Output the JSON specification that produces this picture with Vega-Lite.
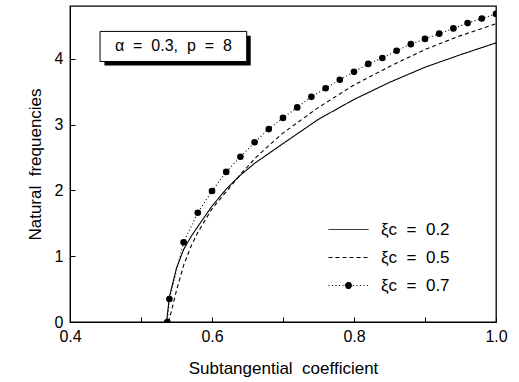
{
  "$schema": "https://vega.github.io/schema/vega-lite/v6.json",
  "width": 426,
  "height": 316,
  "autosize": {"type": "none"},
  "padding": {"left": 70, "top": 6, "right": 23, "bottom": 60},
  "background": "white",
  "config": {
    "view": {"stroke": "black", "strokeWidth": 1.3},
    "font": "Liberation Sans",
    "axis": {
      "grid": false,
      "domainColor": "black",
      "tickColor": "black",
      "labelColor": "black",
      "titleColor": "black",
      "titleFontWeight": "normal",
      "labelFontSize": 16,
      "titleFontSize": 17,
      "labelFlush": false,
      "labelOverlap": false,
      "tickSize": -5
    }
  },
  "datasets": {
    "curves": [
      {"x": 0.536, "y": 0, "xi": "0.2"},
      {"x": 0.54, "y": 0.38, "xi": "0.2"},
      {"x": 0.55, "y": 0.82, "xi": "0.2"},
      {"x": 0.56, "y": 1.1, "xi": "0.2"},
      {"x": 0.57, "y": 1.29, "xi": "0.2"},
      {"x": 0.58, "y": 1.45, "xi": "0.2"},
      {"x": 0.60, "y": 1.76, "xi": "0.2"},
      {"x": 0.62, "y": 2.02, "xi": "0.2"},
      {"x": 0.64, "y": 2.23, "xi": "0.2"},
      {"x": 0.66, "y": 2.41, "xi": "0.2"},
      {"x": 0.68, "y": 2.56, "xi": "0.2"},
      {"x": 0.70, "y": 2.71, "xi": "0.2"},
      {"x": 0.75, "y": 3.08, "xi": "0.2"},
      {"x": 0.80, "y": 3.38, "xi": "0.2"},
      {"x": 0.85, "y": 3.64, "xi": "0.2"},
      {"x": 0.90, "y": 3.87, "xi": "0.2"},
      {"x": 0.95, "y": 4.06, "xi": "0.2"},
      {"x": 1.00, "y": 4.24, "xi": "0.2"},
      {"x": 0.539, "y": 0, "xi": "0.5"},
      {"x": 0.55, "y": 0.48, "xi": "0.5"},
      {"x": 0.56, "y": 0.86, "xi": "0.5"},
      {"x": 0.57, "y": 1.14, "xi": "0.5"},
      {"x": 0.58, "y": 1.36, "xi": "0.5"},
      {"x": 0.60, "y": 1.72, "xi": "0.5"},
      {"x": 0.62, "y": 1.98, "xi": "0.5"},
      {"x": 0.64, "y": 2.24, "xi": "0.5"},
      {"x": 0.66, "y": 2.48, "xi": "0.5"},
      {"x": 0.68, "y": 2.68, "xi": "0.5"},
      {"x": 0.70, "y": 2.87, "xi": "0.5"},
      {"x": 0.75, "y": 3.26, "xi": "0.5"},
      {"x": 0.80, "y": 3.60, "xi": "0.5"},
      {"x": 0.85, "y": 3.88, "xi": "0.5"},
      {"x": 0.90, "y": 4.14, "xi": "0.5"},
      {"x": 0.95, "y": 4.35, "xi": "0.5"},
      {"x": 1.00, "y": 4.53, "xi": "0.5"},
      {"x": 0.537, "y": 0, "xi": "0.7"},
      {"x": 0.54, "y": 0.35, "xi": "0.7"},
      {"x": 0.56, "y": 1.21, "xi": "0.7"},
      {"x": 0.58, "y": 1.66, "xi": "0.7"},
      {"x": 0.60, "y": 1.99, "xi": "0.7"},
      {"x": 0.62, "y": 2.28, "xi": "0.7"},
      {"x": 0.64, "y": 2.51, "xi": "0.7"},
      {"x": 0.66, "y": 2.73, "xi": "0.7"},
      {"x": 0.68, "y": 2.93, "xi": "0.7"},
      {"x": 0.70, "y": 3.10, "xi": "0.7"},
      {"x": 0.72, "y": 3.26, "xi": "0.7"},
      {"x": 0.74, "y": 3.42, "xi": "0.7"},
      {"x": 0.76, "y": 3.55, "xi": "0.7"},
      {"x": 0.78, "y": 3.68, "xi": "0.7"},
      {"x": 0.80, "y": 3.80, "xi": "0.7"},
      {"x": 0.82, "y": 3.92, "xi": "0.7"},
      {"x": 0.84, "y": 4.01, "xi": "0.7"},
      {"x": 0.86, "y": 4.12, "xi": "0.7"},
      {"x": 0.88, "y": 4.22, "xi": "0.7"},
      {"x": 0.90, "y": 4.30, "xi": "0.7"},
      {"x": 0.92, "y": 4.38, "xi": "0.7"},
      {"x": 0.94, "y": 4.46, "xi": "0.7"},
      {"x": 0.96, "y": 4.54, "xi": "0.7"},
      {"x": 0.98, "y": 4.61, "xi": "0.7"},
      {"x": 1.00, "y": 4.68, "xi": "0.7"}
    ],
    "note": [{"t": "α\u00a0\u00a0=\u00a0\u00a00.3,\u00a0\u00a0p\u00a0\u00a0=\u00a0\u00a08"}]
  },
  "layer": [
    {
      "data": {"name": "curves"},
      "mark": {"type": "line", "color": "black", "strokeWidth": 1.1, "clip": true},
      "encoding": {
        "x": {
          "field": "x", "type": "quantitative",
          "scale": {"domain": [0.4, 1.0], "nice": false, "zero": false},
          "axis": {
            "title": "Subtangential\u00a0\u00a0coefficient",
            "values": [0.4, 0.5, 0.6, 0.7, 0.8, 0.9, 1.0],
            "labelExpr": "round(datum.value*10) % 2 == 0 ? format(datum.value, '.1f') : ''",
            "labelPadding": 11,
            "titlePadding": 16
          }
        },
        "y": {
          "field": "y", "type": "quantitative",
          "scale": {"domain": [0, 4.8], "nice": false},
          "axis": {
            "title": "Natural\u00a0\u00a0frequencies",
            "values": [0, 0.5, 1, 1.5, 2, 2.5, 3, 3.5, 4, 4.5],
            "labelExpr": "datum.value % 1 == 0 ? format(datum.value, 'd') : ''",
            "labelPadding": 12,
            "titlePadding": 10
          }
        },
        "strokeDash": {
          "field": "xi", "type": "nominal",
          "scale": {"domain": ["0.2", "0.5", "0.7"], "range": [[1, 0], [4, 3], [1, 2.5]]},
          "legend": {
            "title": null,
            "orient": "none",
            "legendX": 268,
            "legendY": 213,
            "symbolType": "M-2,0H2",
            "symbolSize": 400,
            "symbolStrokeWidth": 1,
            "symbolStrokeColor": "black",
            "symbolFillColor": "black",
            "labelFontSize": 17,
            "labelColor": "black",
            "labelOffset": 22,
            "rowPadding": 9,
            "labelExpr": "'ξc\u00a0\u00a0=\u00a0\u00a0' + datum.label",
            "encode": {
              "symbols": {
                "update": {
                  "shape": {"signal": "datum.value == '0.7' ? 'M-2,0H2M0.34,0A0.34,0.34 0 1 1 -0.34,0A0.34,0.34 0 1 1 0.34,0Z' : 'M-2,0H2'"},
                  "fill": {"value": "black"},
                  "stroke": {"value": "black"}
                }
              }
            }
          }
        }
      }
    },
    {
      "data": {"name": "curves"},
      "transform": [{"filter": "datum.xi == '0.7'"}],
      "mark": {"type": "point", "filled": true, "color": "black", "size": 44, "opacity": 1, "clip": true},
      "encoding": {
        "x": {"field": "x", "type": "quantitative"},
        "y": {"field": "y", "type": "quantitative"}
      }
    },
    {
      "data": {"name": "note"},
      "mark": {"type": "rect", "fill": "black"},
      "encoding": {
        "x": {"datum": 0.4485},
        "x2": {"datum": 0.6545},
        "y": {"datum": 4.35},
        "y2": {"datum": 3.895}
      }
    },
    {
      "data": {"name": "note"},
      "mark": {"type": "rect", "fill": "white", "stroke": "black", "strokeWidth": 1},
      "encoding": {
        "x": {"datum": 0.4423},
        "x2": {"datum": 0.6489},
        "y": {"datum": 4.414},
        "y2": {"datum": 3.957}
      }
    },
    {
      "data": {"name": "note"},
      "mark": {"type": "text", "fontSize": 16, "color": "black", "align": "center", "baseline": "middle"},
      "encoding": {
        "x": {"datum": 0.5456},
        "y": {"datum": 4.185},
        "text": {"field": "t"}
      }
    }
  ]
}
